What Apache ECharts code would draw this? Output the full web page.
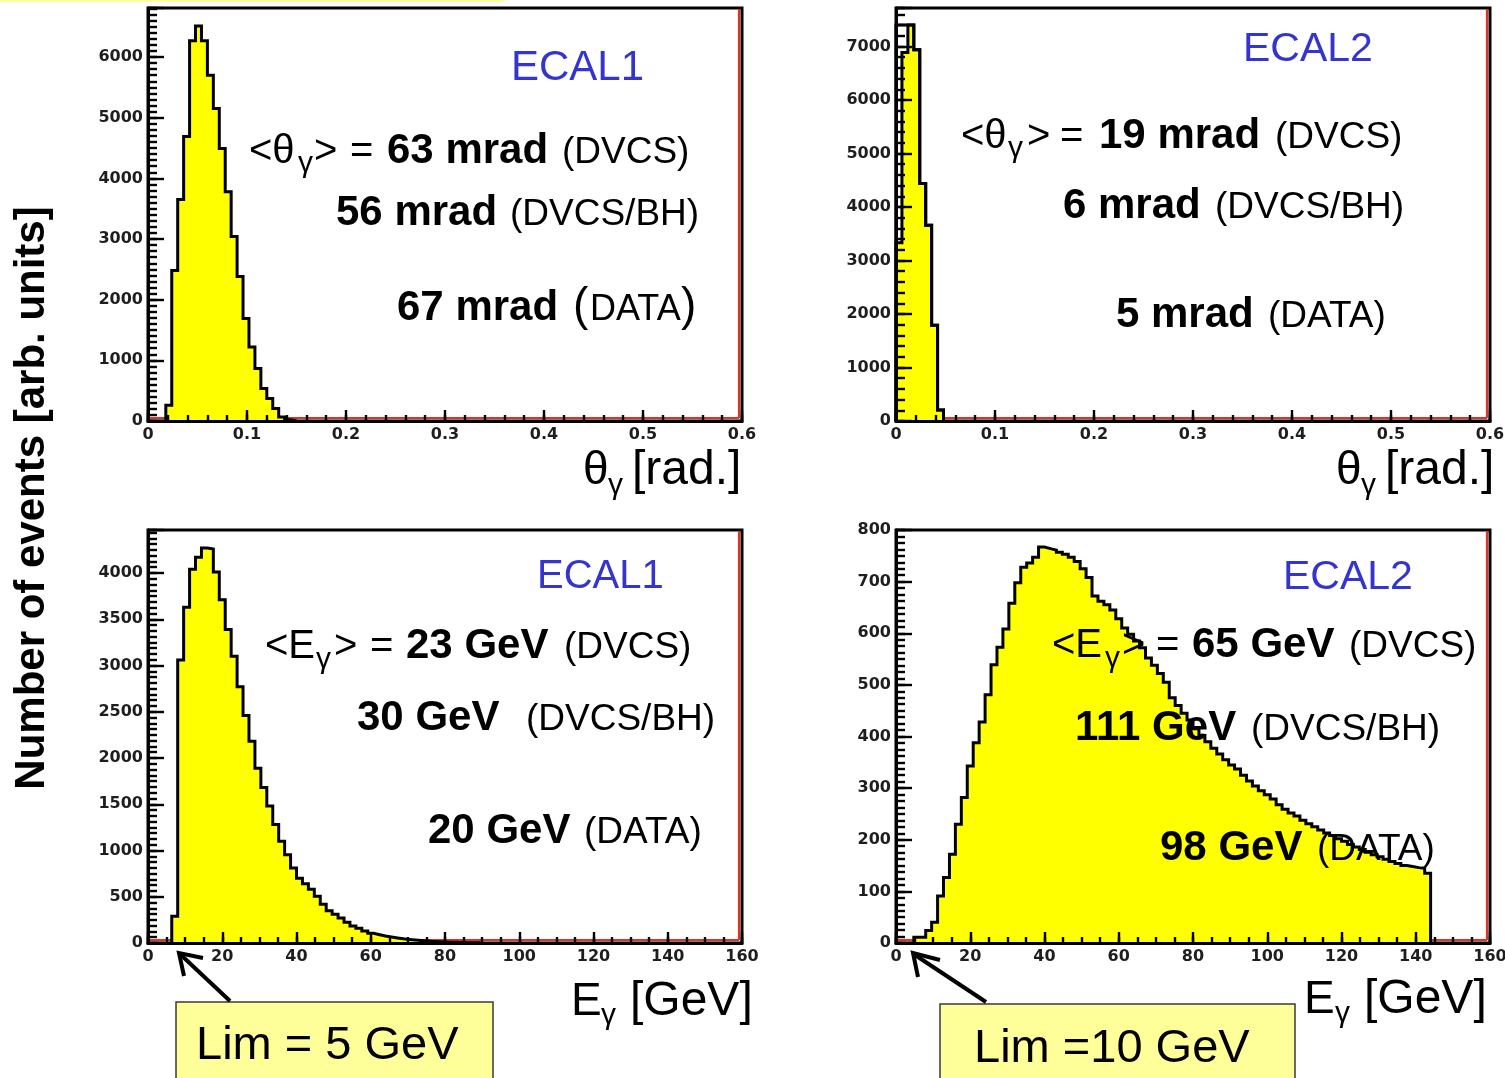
<!DOCTYPE html>
<html>
<head>
<meta charset="utf-8">
<script src="https://cdn.jsdelivr.net/npm/echarts@6/dist/echarts.min.js"></script>
<style>
  html, body { margin: 0; padding: 0; background: #fff; }
  #chart { width: 1505px; height: 1078px; }
</style>
</head>
<body>
<div id="chart"></div>
<script>
// Histogram binning: 100 bins over each axis range
const thetaBinWidth = 0.006;  // rad
const energyBinWidth = 1.6;   // GeV

// ECAL1 photon polar angle, counts per bin from 0 rad
const ecal1ThetaCounts = [0, 0, 0, 260, 2480, 3650, 4690, 6270, 6510, 6270, 5700, 5150, 4490, 3780,
  3040, 2380, 1690, 1220, 865, 535, 370, 205, 66, 20, 5];

// ECAL2 photon polar angle: outer contour and filled part
const ecal2ThetaCounts = [7400, 7400, 7400, 6940, 4440, 3660, 1790, 206];
const ecal2ThetaFilled = [3330, 6890, 7400, 6940, 4440, 3660, 1790, 206];

// ECAL1 photon energy, counts per bin from 0 GeV
const ecal1EnergyCounts = [0, 0, 0, 0, 290, 3060, 3630, 4040, 4170, 4270, 4260, 4010, 3710, 3390,
  3100, 2770, 2460, 2180, 1890, 1680, 1480, 1280, 1100, 955, 810, 700, 640, 580, 505, 420, 350,
  310, 270, 225, 185, 160, 130, 105, 90, 75, 65, 55, 45, 38, 32, 26, 21, 17, 14, 11, 9, 7, 5, 4, 3, 2];

// ECAL2 photon energy, counts per bin from 0 GeV
const ecal2EnergyCounts = [0, 0, 0, 11, 11, 24, 40, 91, 127, 172, 230, 282, 343, 388, 428, 481, 539,
  573, 608, 658, 698, 728, 736, 747, 767, 764, 761, 757, 753, 747, 739, 725, 708, 672, 662, 655,
  645, 628, 610, 598, 585, 572, 552, 538, 522, 505, 475, 460, 445, 432, 415, 402, 390, 377, 366,
  355, 345, 337, 325, 314, 304, 295, 287, 279, 268, 259, 252, 246, 238, 231, 225, 219, 213, 208,
  202, 197, 191, 186, 181, 176, 171, 167, 162, 158, 154, 150, 148, 146, 145, 135];

// Tick labels
const thetaTickLabels = ['0', '0.1', '0.2', '0.3', '0.4', '0.5', '0.6'];
const energyTickLabels = ['0', '20', '40', '60', '80', '100', '120', '140', '160'];
const ecal1ThetaYLabels = ['0', '1000', '2000', '3000', '4000', '5000', '6000'];
const ecal2ThetaYLabels = ['0', '1000', '2000', '3000', '4000', '5000', '6000', '7000'];
const ecal1EnergyYLabels = ['0', '500', '1000', '1500', '2000', '2500', '3000', '3500', '4000'];
const ecal2EnergyYLabels = ['0', '100', '200', '300', '400', '500', '600', '700', '800'];

// Panel layout and axis ranges
const PLOT_W = 594, PLOT_H = 413;
const panels = [
  { left: 148, top: 8, counts: ecal1ThetaCounts, bin: thetaBinWidth,
    xMax: 0.6, xStep: 0.1, xMinor: 0.02, xLabels: thetaTickLabels,
    yMax: 6808, yStep: 1000, yMinor: 100, yLabels: ecal1ThetaYLabels },
  { left: 896, top: 8, counts: ecal2ThetaCounts, filled: ecal2ThetaFilled, bin: thetaBinWidth,
    xMax: 0.6, xStep: 0.1, xMinor: 0.02, xLabels: thetaTickLabels,
    yMax: 7720, yStep: 1000, yMinor: 200, yLabels: ecal2ThetaYLabels },
  { left: 148, top: 530, counts: ecal1EnergyCounts, bin: energyBinWidth,
    xMax: 160, xStep: 20, xMinor: 5, xLabels: energyTickLabels,
    yMax: 4465, yStep: 500, yMinor: 62.5, yLabels: ecal1EnergyYLabels },
  { left: 896, top: 530, counts: ecal2EnergyCounts, bin: energyBinWidth,
    xMax: 160, xStep: 20, xMinor: 5, xLabels: energyTickLabels,
    yMax: 800, yStep: 100, yMinor: 12.5, yLabels: ecal2EnergyYLabels }
];

const BLACK = '#000';
const FILL = '#ffff00';
const RED = '#e2302a';
const BLUE = '#3434cf';
const SANS = '"Liberation Sans", Arial, Helvetica, sans-serif';

// Step contour of a histogram: from the first to the last non-empty bin, closed to zero
function stepPoints(counts, width) {
  const first = counts.findIndex(v => v > 0);
  let last = counts.length - 1;
  while (last > 0 && counts[last] <= 0) last--;
  const pts = [[first * width, 0]];
  for (let i = first; i <= last; i++) pts.push([i * width, counts[i]]);
  pts.push([(last + 1) * width, counts[last]]);
  pts.push([(last + 1) * width, 0]);
  return pts;
}

function labelFrom(labels, step) {
  return function (v) {
    const i = Math.round(v / step);
    if (Math.abs(v - i * step) > step * 1e-3 || i < 0 || i >= labels.length) return '';
    return labels[i];
  };
}

const tickLabelStyle = {
  fontFamily: '"DejaVu Sans", Verdana, sans-serif',
  fontWeight: 'bold',
  fontSize: 16,
  color: '#1e1e1e'
};

const grids = [], xAxes = [], yAxes = [], series = [];

panels.forEach((p, g) => {
  grids.push({
    left: p.left, top: p.top, width: PLOT_W, height: PLOT_H,
    show: true, borderColor: BLACK, borderWidth: 3, backgroundColor: 'transparent',
    containLabel: false, outerBoundsMode: 'none'
  });

  const xMajor = xAxes.length;
  xAxes.push({
    type: 'value', gridIndex: g, position: 'bottom', min: 0, max: p.xMax, interval: p.xStep, z: 6,
    axisLine: { show: true, onZero: false, lineStyle: { color: BLACK, width: 3 } },
    axisTick: { show: true, inside: true, length: 11, lineStyle: { color: BLACK, width: 2.4 } },
    axisLabel: Object.assign({ margin: 6, formatter: labelFrom(p.xLabels, p.xStep) }, tickLabelStyle),
    splitLine: { show: false }
  });
  xAxes.push({
    type: 'value', gridIndex: g, position: 'bottom', offset: 0, min: 0, max: p.xMax, interval: p.xMinor, z: 6,
    axisLine: { show: false, onZero: false },
    axisTick: { show: true, inside: true, length: 6, lineStyle: { color: BLACK, width: 2.4 } },
    axisLabel: { show: false },
    splitLine: { show: false }
  });

  const yMajor = yAxes.length;
  yAxes.push({
    type: 'value', gridIndex: g, position: 'left', min: 0, max: p.yMax, interval: p.yStep, z: 6,
    axisLine: { show: true, onZero: false, lineStyle: { color: BLACK, width: 3 } },
    axisTick: { show: true, inside: true, length: 16, lineStyle: { color: BLACK, width: 2.4 } },
    axisLabel: Object.assign({ margin: 5, formatter: labelFrom(p.yLabels, p.yStep) }, tickLabelStyle),
    splitLine: { show: false }
  });
  yAxes.push({
    type: 'value', gridIndex: g, position: 'left', offset: 0, min: 0, max: p.yMax, interval: p.yMinor, z: 6,
    axisLine: { show: false, onZero: false },
    axisTick: { show: true, inside: true, length: 9, lineStyle: { color: BLACK, width: 2.4 } },
    axisLabel: { show: false },
    splitLine: { show: false }
  });

  // empty reference histogram along zero and the right edge
  series.push({
    type: 'custom', xAxisIndex: xMajor, yAxisIndex: yMajor, z: 2, silent: true, clip: false,
    data: [[p.xMax, p.yMax]],
    renderItem: function (params, api) {
      const a = api.coord([0, 0]);
      const b = api.coord([p.xMax, 0]);
      const c = api.coord([p.xMax, p.yMax]);
      const st = { stroke: RED, lineWidth: 2.2, fill: null };
      return {
        type: 'group',
        children: [
          { type: 'line', shape: { x1: a[0], y1: a[1] - 3, x2: b[0] - 3, y2: b[1] - 3 }, style: st },
          { type: 'line', shape: { x1: b[0] - 3, y1: b[1] - 3, x2: c[0] - 3, y2: c[1] + 1 }, style: st }
        ]
      };
    }
  });

  const filled = p.filled || p.counts;
  series.push({
    type: 'line', xAxisIndex: xMajor, yAxisIndex: yMajor, z: 3, step: 'end',
    symbol: 'none', silent: true,
    data: stepPoints(filled, p.bin),
    lineStyle: { color: BLACK, width: 3, join: 'miter' },
    areaStyle: { color: FILL, opacity: 1 }
  });
  if (p.filled) {
    series.push({
      type: 'line', xAxisIndex: xMajor, yAxisIndex: yMajor, z: 4, step: 'end',
      symbol: 'none', silent: true,
      data: stepPoints(p.counts, p.bin),
      lineStyle: { color: BLACK, width: 3, join: 'miter' }
    });
  }
});

// Text annotations: [text, left x, baseline y, font size, bold, colour]
const annotations = [
  ['ECAL1', 511, 80, 42, false, BLUE],
  ['<θ', 249, 163, 40], ['γ', 298, 172, 30], ['>', 314, 163, 40], ['=', 350, 163, 40],
  ['63 mrad', 387, 163, 42, true], ['(DVCS)', 562, 163, 37],
  ['56 mrad', 336, 225, 42, true], ['(DVCS/BH)', 510, 225, 37],
  ['67 mrad', 397, 320, 42, true], ['(', 573, 320, 46], ['DATA', 590, 320, 36], [')', 681, 320, 46],
  ['θ', 583, 484, 46], ['γ', 608, 494, 30], ['[rad.]', 632, 484, 48],

  ['ECAL2', 1243, 61, 41, false, BLUE],
  ['<θ', 961, 148, 40], ['γ', 1008, 157, 30], ['>', 1027, 148, 40], ['=', 1060, 148, 40],
  ['19 mrad', 1099, 148, 42, true], ['(DVCS)', 1275, 148, 37],
  ['6 mrad', 1063, 218, 42, true], ['(DVCS/BH)', 1215, 218, 37],
  ['5 mrad', 1116, 327, 42, true], ['(DATA)', 1268, 327, 37],
  ['θ', 1336, 484, 46], ['γ', 1361, 494, 30], ['[rad.]', 1385, 484, 48],

  ['ECAL1', 537, 588, 40, false, BLUE],
  ['<E', 265, 658, 40], ['γ', 316, 668, 30], ['>', 334, 658, 40], ['=', 370, 658, 40],
  ['23 GeV', 406, 658, 42, true], ['(DVCS)', 564, 658, 37],
  ['30 GeV', 357, 730, 42, true], ['(DVCS/BH)', 526, 730, 37],
  ['20 GeV', 428, 843, 42, true], ['(DATA)', 584, 843, 37],
  ['E', 571, 1015, 46], ['γ', 601, 1024, 30], ['[GeV]', 630, 1015, 48],

  ['ECAL2', 1283, 589, 41, false, BLUE],
  ['<E', 1052, 657, 40], ['γ', 1105, 667, 30], ['>', 1122, 657, 40], ['=', 1156, 657, 40],
  ['65 GeV', 1192, 657, 42, true], ['(DVCS)', 1349, 657, 37],
  ['111 GeV', 1075, 740, 42, true], ['(DVCS/BH)', 1251, 740, 37],
  ['98 GeV', 1160, 860, 42, true], ['(DATA)', 1317, 860, 37],
  ['E', 1304, 1013, 46], ['γ', 1335, 1022, 30], ['[GeV]', 1364, 1013, 48]
];

const graphics = [];

// pale strip at the very top
graphics.push({ type: 'rect', shape: { x: 0, y: 0, width: 504, height: 2 }, style: { fill: '#ffff9c' }, z: 50 });

// cut boxes with their arrows
graphics.push({ type: 'rect', shape: { x: 176, y: 1002, width: 317, height: 100 },
  style: { fill: '#ffff99', stroke: '#3a3a3a', lineWidth: 1.5 }, z: 50 });
graphics.push({ type: 'rect', shape: { x: 940, y: 1004, width: 355, height: 100 },
  style: { fill: '#ffff99', stroke: '#3a3a3a', lineWidth: 1.5 }, z: 50 });

const arrowStyle = { stroke: BLACK, lineWidth: 4, fill: null, lineJoin: 'miter' };
graphics.push({ type: 'line', shape: { x1: 230, y1: 1001, x2: 181, y2: 955 }, style: arrowStyle, z: 51 });
graphics.push({ type: 'polyline', shape: { points: [[203, 958], [179, 953], [184, 976]] }, style: arrowStyle, z: 51 });
graphics.push({ type: 'line', shape: { x1: 986, y1: 1002, x2: 915, y2: 955 }, style: arrowStyle, z: 51 });
graphics.push({ type: 'polyline', shape: { points: [[940, 960], [913, 953], [918, 977]] }, style: arrowStyle, z: 51 });

annotations.push(['Lim = 5 GeV', 196, 1059, 47]);
annotations.push(['Lim =10 GeV', 974, 1062, 47]);

annotations.forEach(([text, x, baseline, size, bold, color]) => {
  graphics.push({
    type: 'text', x: x, y: baseline - 0.28 * size, z: 60, silent: true,
    style: {
      text: text,
      font: (bold ? 'bold ' : '') + size + 'px ' + SANS,
      fill: color || BLACK,
      align: 'left', verticalAlign: 'middle',
      textAlign: 'left', textVerticalAlign: 'middle'
    }
  });
});

// shared vertical title
graphics.push({
  type: 'text', x: 32, y: 498, rotation: Math.PI / 2, z: 60, silent: true,
  style: {
    text: 'Number of events [arb. units]',
    font: 'bold 42px ' + SANS, fill: BLACK,
    align: 'center', verticalAlign: 'middle', textAlign: 'center', textVerticalAlign: 'middle'
  }
});

const chart = echarts.init(document.getElementById('chart'), null, { renderer: 'canvas' });
chart.setOption({
  animation: false,
  backgroundColor: '#fff',
  grid: grids,
  xAxis: xAxes,
  yAxis: yAxes,
  series: series,
  graphic: graphics
});
</script>
</body>
</html>
